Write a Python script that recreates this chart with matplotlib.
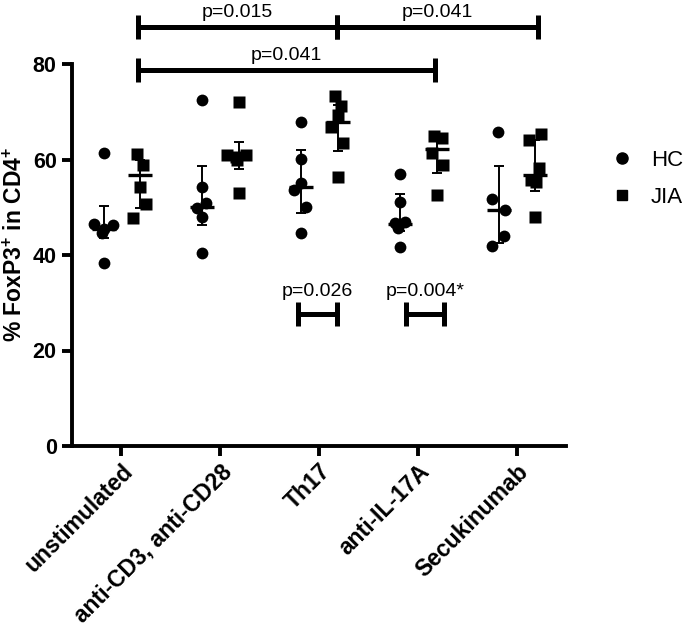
import numpy as np
import matplotlib
matplotlib.use("Agg")
import matplotlib.pyplot as plt
from matplotlib.lines import Line2D

plt.rcParams['font.family'] = ['Liberation Sans', 'DejaVu Sans']
plt.rcParams['mathtext.fontset'] = 'custom'
plt.rcParams['mathtext.rm'] = 'Liberation Sans:bold'
plt.rcParams['mathtext.bf'] = 'Liberation Sans:bold'

categories = ["unstimulated", "anti-CD3, anti-CD28", "Th17", "anti-IL-17A", "Secukinumab"]

# individual donors
hc_values = [
    [61.3, 46.4, 45.4, 46.3, 44.6, 38.4],
    [72.5, 54.3, 50.8, 49.8, 48.0, 40.4],
    [67.9, 60.2, 55.0, 53.6, 50.1, 44.7],
    [57.0, 51.2, 46.6, 47.0, 45.6, 41.6],
    [65.8, 51.7, 49.4, 44.0, 41.9],
]
jia_values = [
    [61.2, 58.8, 54.3, 50.7, 47.7],
    [72.1, 60.9, 60.6, 60.9, 59.9, 52.9],
    [73.2, 71.1, 69.3, 66.9, 63.5, 56.3],
    [64.9, 64.4, 61.3, 58.8, 52.6],
    [65.3, 64.1, 58.2, 55.7, 55.3, 48.0],
]

# median line and bar ends as drawn
hc_center = [45.5, 50.1, 54.2, 46.5, 49.4]
hc_low = [43.5, 46.3, 48.7, 45.0, 42.5]
hc_high = [50.3, 58.7, 62.0, 52.7, 58.7]
jia_center = [56.7, 60.6, 67.9, 62.3, 56.8]
jia_low = [49.9, 58.0, 61.8, 57.2, 53.4]
jia_high = [59.8, 63.6, 71.5, 64.5, 64.0]

# brackets: (x start, x end, y, label)
brackets = [
    (0.165, 2.18, 87.7, "p=0.015"),
    (2.18, 4.22, 87.7, "p=0.041"),
    (0.165, 3.17, 78.7, "p=0.041"),
    (1.784, 2.18, 27.6, "p=0.026"),
    (2.883, 3.262, 27.6, "p=0.004*"),
]

# horizontal scatter of the dots within each column
hc_jitter = [
    [-0.18, -0.28, -0.18, -0.09, -0.20, -0.18],
    [-0.18, -0.18, -0.14, -0.23, -0.18, -0.18],
    [-0.18, -0.18, -0.18, -0.25, -0.13, -0.18],
    [-0.18, -0.18, -0.23, -0.13, -0.20, -0.18],
    [-0.19, -0.25, -0.12, -0.13, -0.25],
]
jia_jitter = [
    [0.16, 0.22, 0.19, 0.25, 0.12],
    [0.19, 0.07, 0.16, 0.26, 0.17, 0.19],
    [0.16, 0.22, 0.19, 0.12, 0.24, 0.19],
    [0.16, 0.24, 0.14, 0.25, 0.19],
    [0.25, 0.13, 0.23, 0.15, 0.20, 0.19],
]

fig = plt.figure(figsize=(6.85, 6.28), dpi=100)
ax = fig.add_axes([72 / 685, 182 / 628, 494 / 685, 382 / 628])

x = np.arange(len(categories))
off_hc, off_jia = -0.18, 0.19

for i in range(len(categories)):
    ax.plot(i + np.array(hc_jitter[i]), hc_values[i], 'o', color='black', ms=8.5, mec='none', clip_on=False)
    ax.plot(i + np.array(jia_jitter[i]), jia_values[i], 's', color='black', ms=8, mec='none', clip_on=False)

for off, c, lo, hi in [(off_hc, hc_center, hc_low, hc_high), (off_jia, jia_center, jia_low, jia_high)]:
    c = np.array(c)
    yerr = [c - np.array(lo), np.array(hi) - c]
    ax.errorbar(x + off, c, yerr=yerr, fmt='none', ecolor='black', elinewidth=1.4, capsize=3.6, capthick=1.4)
    ax.plot(x + off, c, '_', color='black', ms=17, mew=2.4, ls='none')

cap = 2.5
for x1, x2, yb, lab in brackets:
    ax.plot([x1, x2], [yb, yb], color='black', lw=3.6, solid_capstyle='butt', clip_on=False)
    ax.vlines([x1, x2], yb - cap, yb + cap, color='black', lw=3.6, clip_on=False)
    dy = 2.1 if yb > 50 else 3.8
    ax.text((x1 + x2) / 2, yb + dy, lab, ha='center', va='baseline', fontsize=14)

ax.set_xlim(-0.5, 4.5)
ax.set_ylim(0, 80)
ax.set_yticks([0, 20, 40, 60, 80])
ax.set_xticks(x)
ax.set_xticklabels(categories, rotation=45, ha='right', va='top', rotation_mode='anchor')
ax.tick_params(axis='both', length=7, width=2.8, pad=4)
ax.tick_params(axis='x', labelsize=16.5, pad=3)
ax.tick_params(axis='y', labelsize=15.5)
for lab in ax.get_xticklabels() + ax.get_yticklabels():
    lab.set_fontweight('bold')

for s in ['top', 'right']:
    ax.spines[s].set_visible(False)
for s in ['left', 'bottom']:
    ax.spines[s].set_linewidth(2.8)

fig.text(15 / 685, 1 - 244 / 628, r'% FoxP3$^{\mathbf{+}}$ in CD4$^{\mathbf{+}}$',
         rotation=90, ha='center', va='center', fontsize=16.5, fontweight='bold')

handles = [Line2D([], [], marker='o', color='black', ls='none', ms=8),
           Line2D([], [], marker='s', color='black', ls='none', ms=7.5)]
fig.legend(handles, ['HC', 'JIA'], loc='upper left', bbox_to_anchor=(591 / 685, 1 - 130 / 628),
           frameon=False, fontsize=16, handlelength=1.0, handletextpad=0.8, labelspacing=0.72)

fig.savefig('out.png', dpi=100)
